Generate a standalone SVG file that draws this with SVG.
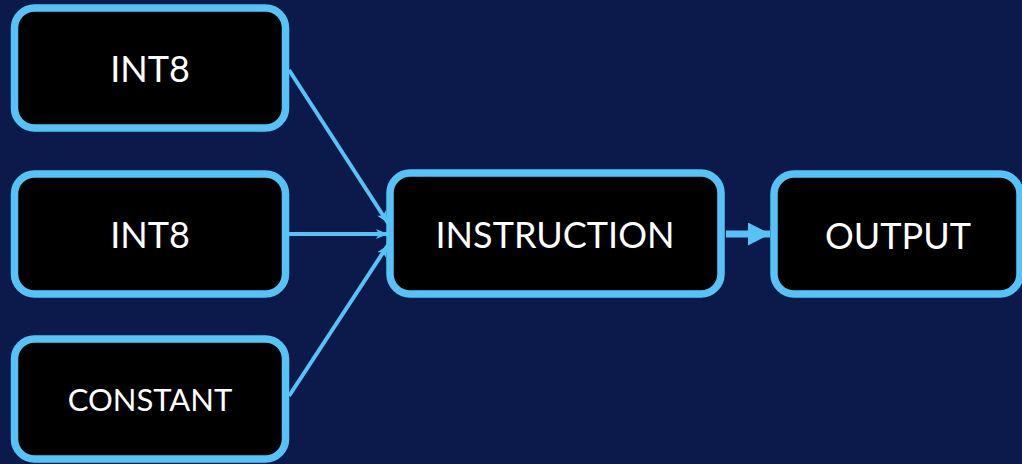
<svg xmlns="http://www.w3.org/2000/svg" width="1022" height="464" viewBox="0 0 1022 464">
<style>
.box{fill:#000;stroke:#56C3F7;stroke-width:7.5}
.t{fill:#fff;font-family:Lato,"Open Sans",sans-serif;text-anchor:middle}
.c{stroke:#56C3F7;stroke-width:4;fill:none}
</style>
<defs>
<marker id="ah" viewBox="0 0 12 10" refX="12" refY="5" markerWidth="12" markerHeight="10" markerUnits="userSpaceOnUse" orient="auto">
<path d="M0,0 L12,5 L0,10 L3,5 Z" fill="#56C3F7"/>
</marker>
<marker id="big" viewBox="0 0 22 23" refX="22" refY="11.5" markerWidth="22" markerHeight="23" markerUnits="userSpaceOnUse" orient="auto">
<path d="M0,0 L22,11.5 L0,23 Z" fill="#56C3F7"/>
</marker>
</defs>
<rect width="1022" height="464" fill="#0B1A4B"/>
<g id="connectors">
<line class="c" x1="289" y1="70" x2="388" y2="223" marker-end="url(#ah)"/>
<line class="c" x1="289" y1="234" x2="388" y2="234" marker-end="url(#ah)"/>
<line class="c" x1="289" y1="396" x2="388" y2="245" marker-end="url(#ah)"/>
<line x1="726" y1="234" x2="770" y2="234" stroke="#56C3F7" stroke-width="7" marker-end="url(#big)"/>
</g>
<g id="n1"><rect class="box" x="14.5" y="8" width="271" height="120" rx="20"/><text class="t" x="150" y="82" font-size="36">INT8</text></g>
<g id="n2"><rect class="box" x="14.5" y="174" width="271" height="120" rx="20"/><text class="t" x="150" y="248" font-size="36">INT8</text></g>
<g id="n3"><rect class="box" x="14.5" y="339" width="271" height="120" rx="20"/><text class="t" x="150" y="411" font-size="31">CONSTANT</text></g>
<g id="n4"><rect class="box" x="390" y="173" width="331" height="121" rx="20"/><text class="t" x="555" y="248" font-size="36">INSTRUCTION</text></g>
<g id="n5"><rect class="box" x="774" y="174" width="246" height="120" rx="20"/><text class="t" x="898" y="249" font-size="36">OUTPUT</text></g>
</svg>
